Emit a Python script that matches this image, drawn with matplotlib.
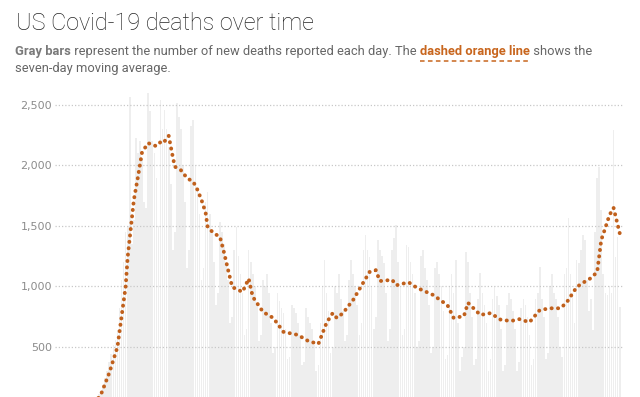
import numpy as np
import matplotlib
matplotlib.use("Agg")
import matplotlib.pyplot as plt
from matplotlib.lines import Line2D

# daily new deaths, one value per day starting Mar 1
daily_deaths = [
    0, 1, 1, 2, 3, 2, 3,
    4, 4, 6, 8, 8, 10, 12,
    18, 26, 35, 50, 65, 90, 110,
    130, 180, 240, 300, 380, 440, 520,
    560, 640, 820, 1050, 1200, 1450, 1500,
    2565, 1350, 1550, 2225, 2100, 2200, 2050,
    1700, 1650, 2600, 2450, 2200, 2100, 1900,
    1500, 2540, 2300, 2460, 2300, 2150, 1850,
    1300, 1450, 2515, 2400, 2300, 2000, 1700,
    1150, 1300, 2330, 2375, 2000, 1800, 1600,
    1050, 1150, 1700, 1780, 1600, 1450, 1200,
    850, 950, 1530, 1450, 1350, 1200, 1050,
    700, 750, 1300, 1490, 1250, 1100, 950,
    600, 650, 1300, 1200, 1100, 1000, 850,
    550, 600, 1050, 1000, 1100, 950, 700,
    450, 500, 950, 880, 820, 780, 650,
    400, 420, 850, 820, 780, 700, 600,
    350, 380, 820, 750, 700, 650, 520,
    300, 350, 700, 1000, 1220, 950, 800,
    450, 500, 1000, 950, 1100, 900, 800,
    550, 600, 1050, 1220, 1100, 1000, 850,
    600, 700, 1300, 1425, 1300, 1245, 1000,
    650, 750, 1385, 1300, 1250, 1195, 950,
    550, 650, 1300, 1400, 1510, 1200, 1000,
    600, 650, 1340, 1325, 1200, 1100, 950,
    500, 550, 1250, 1300, 1150, 1050, 850,
    450, 500, 1150, 1200, 1100, 1000, 800,
    400, 430, 1000, 1100, 950, 1220, 700,
    300, 420, 500, 1285, 1200, 950, 750,
    350, 400, 900, 1110, 950, 850, 700,
    300, 400, 900, 1000, 920, 850, 650,
    300, 350, 850, 950, 900, 800, 650,
    300, 380, 820, 900, 850, 750, 600,
    350, 400, 900, 950, 1160, 900, 750,
    400, 450, 1000, 1100, 950, 900, 750,
    500, 415, 1100, 1150, 1570, 1100, 950,
    700, 1220, 1195, 1300, 1425, 1385, 1050,
    800, 900, 640, 1450, 1900, 1985, 1630,
    1100, 945, 930, 1000, 950, 2290, 1240,
    1410, 830,
]

# seven-day moving average (dashed orange line), day index -> value
avg_days = [12, 16, 19, 21, 25, 29, 31, 33, 34, 35, 37, 39, 41, 44, 46, 48,
            51, 52, 54, 56, 57, 60, 63, 66, 68, 70, 72, 73, 76, 79, 81, 83,
            85, 90, 93, 95, 100, 105, 110, 117, 122, 127, 131, 134, 136, 139,
            144, 149, 152, 155, 157, 163, 165, 171, 175, 183, 190, 193, 198,
            200, 206, 211, 216, 221, 225, 230, 235, 240, 245, 248, 253, 256,
            260, 263, 265, 267, 269, 271, 273, 274]
avg_values = [3, 25, 62, 110, 285, 500, 750, 1000, 1245, 1400, 1715, 1905,
              2110, 2185, 2170, 2160, 2210, 2200, 2245, 2070, 1990, 1960, 1895,
              1865, 1800, 1715, 1610, 1490, 1440, 1410, 1280, 1135, 995, 955,
              1065, 915, 790, 740, 625, 600, 550, 525, 700, 780, 740, 780, 890,
              1035, 1120, 1135, 1045, 1055, 1010, 1035, 990, 930, 845, 740, 755,
              865, 765, 780, 725, 715, 730, 705, 805, 820, 820, 865, 995, 1030,
              1070, 1120, 1385, 1485, 1590, 1650, 1510, 1440]

y_ticks = [500, 1000, 1500, 2000, 2500]

W, H = 640, 397
fig = plt.figure(figsize=(W / 100, H / 100), dpi=100)
ax = fig.add_axes([55 / W, 0, (623 - 55) / W, 1 - 88 / H])

days = np.arange(len(daily_deaths))
ax.bar(days, daily_deaths, width=0.8, color="#eeeeee", zorder=1)
for v in y_ticks:
    ax.axhline(v, color="#c8c8c8", lw=0.9, ls=(0, (1, 1.6)), zorder=2)
ax.plot(avg_days, avg_values, color="#c0601c", lw=2.8, ls=(0, (0.05, 1.6)),
        dash_capstyle="round", zorder=3)

ax.set_xlim(-1.46, 275.6)
ax.set_ylim(87, 2640)
ax.set_xticks([])
ax.set_yticks(y_ticks)
ax.set_yticklabels([f"{v:,}" for v in y_ticks])
ax.tick_params(axis="y", length=0, pad=2, labelsize=8, labelcolor="#8c8c8c")
for s in ax.spines.values():
    s.set_visible(False)

# title + subtitle with mixed styling
fig.text(16 / W, 1 - 30 / H, "US Covid-19 deaths over time", fontsize=16.8,
         fontweight="light", family="Roboto", color="#262626", va="baseline")

fig.canvas.draw()
r = fig.canvas.get_renderer()
x = 15
base = dict(fontsize=9.3, family="Roboto", va="baseline")
pieces = [("Gray bars", dict(color="#7a7a7a", fontweight="bold")),
          (" represent the number of new deaths reported each day. The ", dict(color="#666666")),
          ("dashed orange line", dict(color="#c8661e", fontweight="bold")),
          (" shows the", dict(color="#666666"))]
for txt, st in pieces:
    t = fig.text(x / W, 1 - 55 / H, txt, **base, **st)
    bb = t.get_window_extent(r)
    if txt.startswith("dashed"):
        fig.add_artist(Line2D([bb.x0 / W, bb.x1 / W], [1 - 61 / H, 1 - 61 / H],
                              transform=fig.transFigure, color="#c8661e",
                              lw=1.1, ls=(0, (3, 2.2))))
    x = bb.x1
fig.text(15 / W, 1 - 72 / H, "seven-day moving average.", color="#666666", **base)

fig.savefig("out.png", dpi=100)
